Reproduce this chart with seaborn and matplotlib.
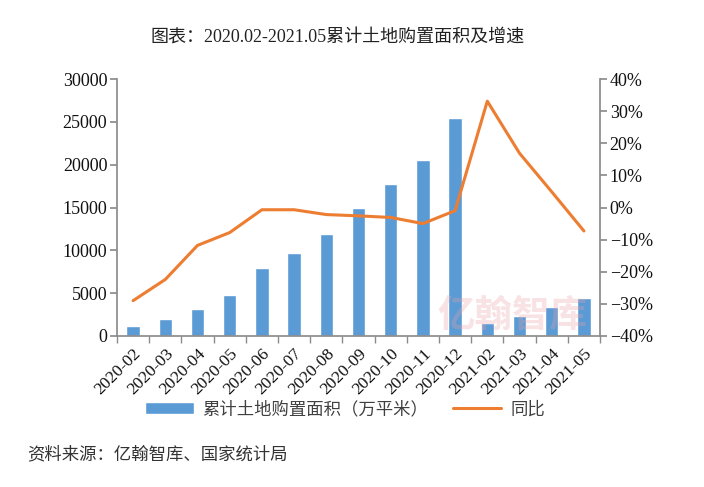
import matplotlib
matplotlib.use("Agg")
import matplotlib.pyplot as plt
import seaborn as sns
import pandas as pd
import numpy as np

months = ["2020-02", "2020-03", "2020-04", "2020-05", "2020-06", "2020-07", "2020-08",
          "2020-09", "2020-10", "2020-11", "2020-12", "2021-02", "2021-03", "2021-04", "2021-05"]
area = [1150, 1950, 3120, 4750, 7900, 9650, 11870, 14900, 17700, 20500, 25450,
        1480, 2300, 3350, 4400]
yoy = [-29.0, -22.4, -11.8, -7.8, -0.7, -0.7, -2.2, -2.6, -3.1, -5.0, -1.0,
       33.1, 16.9, 4.9, -7.3]

bar_label = "累计土地购置面积（万平米）"
line_label = "同比"

sns.set_theme(style="white")
plt.rcParams["font.family"] = ["Liberation Serif", "Noto Sans CJK SC", "DejaVu Sans"]
plt.rcParams["axes.unicode_minus"] = True

df = pd.DataFrame({"month": months, "area": area, "yoy": yoy, "pos": np.arange(len(months))})

fig = plt.figure(figsize=(7.04, 4.87), dpi=100)
ax = fig.add_axes([117/704, 1-336/487, (600-117)/704, (336-79)/487])
ax2 = ax.twinx()

sns.barplot(data=df, x="month", y="area", color="#5B9BD5", width=0.42, ax=ax,
            saturation=1, label=bar_label)
sns.lineplot(data=df, x="pos", y="yoy", color="#ED7D31", linewidth=2.2, ax=ax2,
             label=line_label)

ax.set_xlim(-0.5, len(months) - 0.5)
ax.set_ylim(0, 30000)
ax.set_yticks(np.arange(0, 30001, 5000))
ax2.set_ylim(-40, 40)
ax2.set_yticks(np.arange(-40, 41, 10))
ax2.set_yticklabels([f"{v}%".replace("-", "\u2212") for v in range(-40, 41, 10)])
ax.set_xlabel("")
ax.set_ylabel("")
ax2.set_xlabel("")
ax2.set_ylabel("")

grey = "#8c8c8c"
for a in (ax, ax2):
    for s in a.spines.values():
        s.set_visible(False)
ax.spines["left"].set_visible(True)
ax.spines["left"].set_color(grey)
ax.spines["bottom"].set_visible(True)
ax.spines["bottom"].set_color(grey)
ax2.spines["right"].set_visible(True)
ax2.spines["right"].set_color(grey)

ax.tick_params(axis="y", which="both", left=True, length=5, color=grey, labelsize=13,
               pad=2, labelcolor="#111111")
ax2.tick_params(axis="y", which="both", right=True, length=5, color=grey, labelsize=13,
                pad=2, labelcolor="#111111")
ax.set_xticks(np.arange(len(months)))
ax.set_xticklabels(months, rotation=45, ha="right", rotation_mode="anchor", fontsize=12.5)
ax.set_xticks(np.arange(len(months) + 1) - 0.5, minor=True)
ax.tick_params(axis="x", which="major", length=0, pad=7, labelcolor="#111111")
ax.tick_params(axis="x", which="minor", bottom=True, length=5, color=grey)

for lg in (ax.get_legend(), ax2.get_legend()):
    if lg is not None:
        lg.remove()

h1, l1 = ax.get_legend_handles_labels()
h2, l2 = ax2.get_legend_handles_labels()
fig.legend(h1 + h2, l1 + l2, loc="center", bbox_to_anchor=(345/704, 1-410/487), ncol=2,
           frameon=False, fontsize=12.5, handlelength=2.8, columnspacing=1.4,
           handletextpad=0.5, labelcolor="#404040")

fig.text(338/704, 1-37/487, "图表：2020.02-2021.05累计土地购置面积及增速", ha="center",
         va="center", fontsize=13, color="#222222")
fig.text(27/704, 1-455/487, "资料来源：亿翰智库、国家统计局", ha="left", va="center",
         fontsize=12.5, color="#333333")
fig.text(512/704, 1-315/487, "亿翰智库", ha="center", va="center", fontsize=27,
         color="#E8A0A8", alpha=0.3, fontweight="bold", family="Noto Sans CJK SC")

fig.savefig("out.png", dpi=100)
